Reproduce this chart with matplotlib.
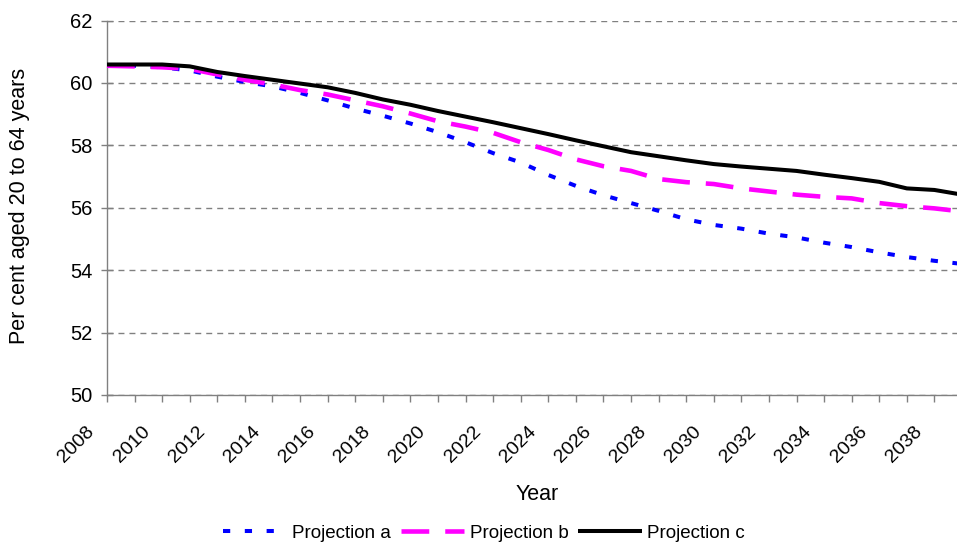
import matplotlib
matplotlib.use("Agg")
import matplotlib.pyplot as plt
from matplotlib.transforms import ScaledTranslation

plt.rcParams['font.family'] = ['Liberation Sans', 'DejaVu Sans']
plt.rcParams['lines.scale_dashes'] = False

years = list(range(2008, 2040))

projection_a = [60.55, 60.55, 60.50, 60.40, 60.20, 60.03, 59.89, 59.68, 59.44, 59.18,
                58.95, 58.70, 58.42, 58.10, 57.75, 57.45, 57.05, 56.70, 56.40, 56.15,
                55.90, 55.63, 55.45, 55.33, 55.17, 55.05, 54.88, 54.74, 54.57, 54.42,
                54.30, 54.20]
projection_b = [60.55, 60.53, 60.50, 60.45, 60.27, 60.10, 59.95, 59.77, 59.63, 59.44,
                59.25, 59.02, 58.77, 58.60, 58.40, 58.10, 57.85, 57.55, 57.33, 57.18,
                56.92, 56.82, 56.76, 56.62, 56.52, 56.42, 56.35, 56.30, 56.15, 56.05,
                55.98, 55.88]
projection_c = [60.59, 60.59, 60.59, 60.53, 60.35, 60.22, 60.10, 59.98, 59.86, 59.68,
                59.47, 59.30, 59.10, 58.92, 58.74, 58.55, 58.36, 58.16, 57.97, 57.78,
                57.65, 57.52, 57.40, 57.32, 57.25, 57.18, 57.06, 56.95, 56.83, 56.62,
                56.57, 56.42]

series_labels = ["Projection a", "Projection b", "Projection c"]
y_ticks = [50, 52, 54, 56, 58, 60, 62]
x_label_years = list(range(2008, 2039, 2))

W, H = 957, 548
fig = plt.figure(figsize=(W / 100, H / 100), dpi=100)
ax = fig.add_axes([107 / W, 1 - 395 / H, (962 - 107) / W, (395 - 20.5) / H])

lw = 2.9
ax.plot(years, projection_a, color="#0000FF", lw=lw, dashes=(5.2, 10.5),
        dash_capstyle="butt", label=series_labels[0], zorder=3)
ax.plot(years, projection_b, color="#FF00FF", lw=lw + 0.4, dashes=(20, 11.5),
        dash_capstyle="butt", label=series_labels[1], zorder=4)
ax.plot(years, projection_c, color="#000000", lw=lw, solid_capstyle="butt",
        label=series_labels[2], zorder=5)

ax.set_xlim(2008, 2039)
ax.set_ylim(50, 62)

# grid
ax.set_yticks(y_ticks)
ax.yaxis.grid(True, color="#808080", lw=1.0, linestyle=(0, (4.3, 3.6)))
ax.set_axisbelow(True)

for side in ("top", "right"):
    ax.spines[side].set_visible(False)
for side in ("left", "bottom"):
    ax.spines[side].set_color("#808080")
    ax.spines[side].set_linewidth(1.0)

ax.tick_params(axis="y", direction="inout", length=9, width=1.0, color="#808080",
               labelsize=14.5, pad=6)
ax.set_xticks(years, minor=True)
ax.set_xticks(x_label_years)
ax.set_xticklabels([str(y) for y in x_label_years])
ax.tick_params(axis="x", which="both", direction="out", length=5, width=1.0,
               color="#808080")
ax.tick_params(axis="x", which="major", labelsize=14, pad=15)
shift = ScaledTranslation(-9 / 100, 0, fig.dpi_scale_trans)
for lab in ax.get_xticklabels():
    lab.set_rotation(45)
    lab.set_ha("right")
    lab.set_transform(lab.get_transform() + shift)

ax.set_xlabel("Year", fontsize=15.5)
ax.xaxis.set_label_coords((537 - 107) / (962 - 107), (395 - 495) / (395 - 20.5))
ax.xaxis.label.set_va("center")
ax.set_ylabel("Per cent aged 20 to 64 years", fontsize=15.5)
ax.yaxis.set_label_coords((20 - 107) / (962 - 107), 0.505)
ax.yaxis.label.set_va("center")

fig.legend(loc="center", bbox_to_anchor=(484 / W, 1 - 533 / H), ncol=3,
           frameon=False, fontsize=13.5, handlelength=3.4, handletextpad=0.3,
           columnspacing=0.5)

fig.savefig("out.png", dpi=100)
